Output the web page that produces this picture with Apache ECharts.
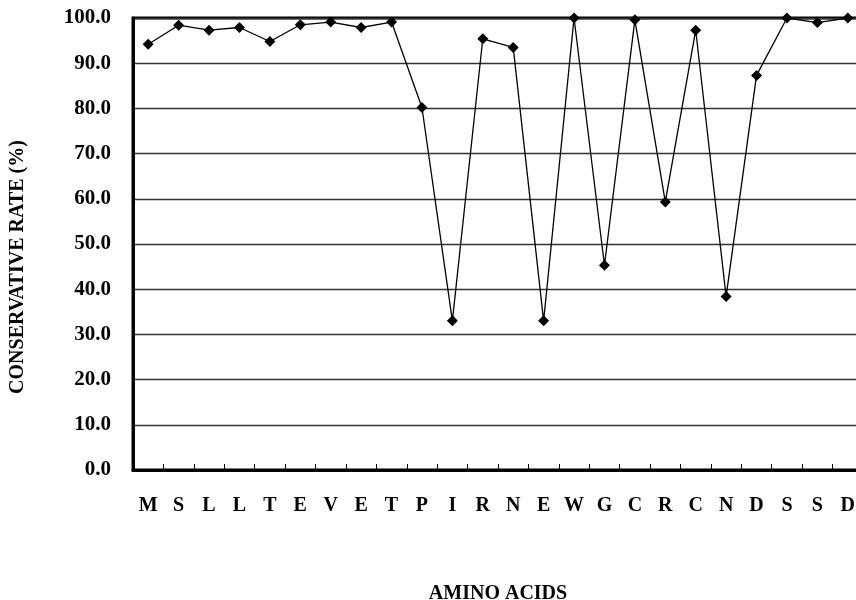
<!DOCTYPE html>
<html>
<head>
<meta charset="utf-8">
<script src="https://cdn.jsdelivr.net/npm/echarts@6/dist/echarts.min.js"></script>
<style>
html,body{margin:0;padding:0;background:#fff;}
#chart{width:856px;height:600px;}
</style>
</head>
<body>
<div id="chart"></div>
<script>
var categories = ['M','S','L','L','T','E','V','E','T','P','I','R','N','E','W','G','C','R','C','N','D','S','S','D'];
var conservativeRate = [94.2, 98.4, 97.3, 97.9, 94.8, 98.5, 99.1, 97.9, 99.1, 80.2, 33.0, 95.4, 93.5, 33.0, 100.0, 45.3, 99.6, 59.3, 97.3, 38.4, 87.3, 100.0, 99.0, 100.0];
var yTicks = {min: 0, max: 100, interval: 10};

var FONT = '"Liberation Serif", "Times New Roman", serif';
var chart = echarts.init(document.getElementById('chart'));
chart.setOption({
  animation: false,
  backgroundColor: '#fff',
  grid: {
    left: 133, top: 18, width: 730, height: 452,
    outerBoundsMode: 'none',
    containLabel: false,
    show: true, borderColor: '#000', borderWidth: 3, backgroundColor: 'transparent'
  },
  xAxis: {
    type: 'category',
    data: categories,
    boundaryGap: true,
    name: 'AMINO ACIDS',
    nameLocation: 'middle',
    nameGap: 114,
    nameMoveOverlap: false,
    nameTextStyle: {fontFamily: FONT, fontWeight: 'bold', fontSize: 20, color: '#000'},
    axisLine: {lineStyle: {color: '#000', width: 3}},
    axisTick: {show: true, inside: true, length: 6, lineStyle: {color: '#000', width: 1}},
    axisLabel: {fontFamily: FONT, fontWeight: 'bold', fontSize: 20, color: '#000', margin: 26, interval: 0},
    splitLine: {show: false}
  },
  yAxis: {
    type: 'value',
    min: yTicks.min, max: yTicks.max, interval: yTicks.interval,
    name: 'CONSERVATIVE RATE (%)',
    nameLocation: 'middle',
    nameGap: 105,
    nameMoveOverlap: false,
    nameTextStyle: {fontFamily: FONT, fontWeight: 'bold', fontSize: 20, color: '#000', padding: [0, 46, 0, 0]},
    axisLine: {show: true, lineStyle: {color: '#000', width: 3}},
    axisTick: {show: false},
    axisLabel: {fontFamily: FONT, fontWeight: 'bold', fontSize: 21, color: '#000', margin: 22,
      formatter: function (v) { return v.toFixed(1); }},
    splitLine: {show: true, lineStyle: {color: '#333', width: 1.3}}
  },
  series: [{
    type: 'line',
    data: conservativeRate,
    symbol: 'diamond',
    symbolSize: 11,
    itemStyle: {color: '#000'},
    lineStyle: {color: '#000', width: 1.3}
  }]
});
</script>
</body>
</html>
